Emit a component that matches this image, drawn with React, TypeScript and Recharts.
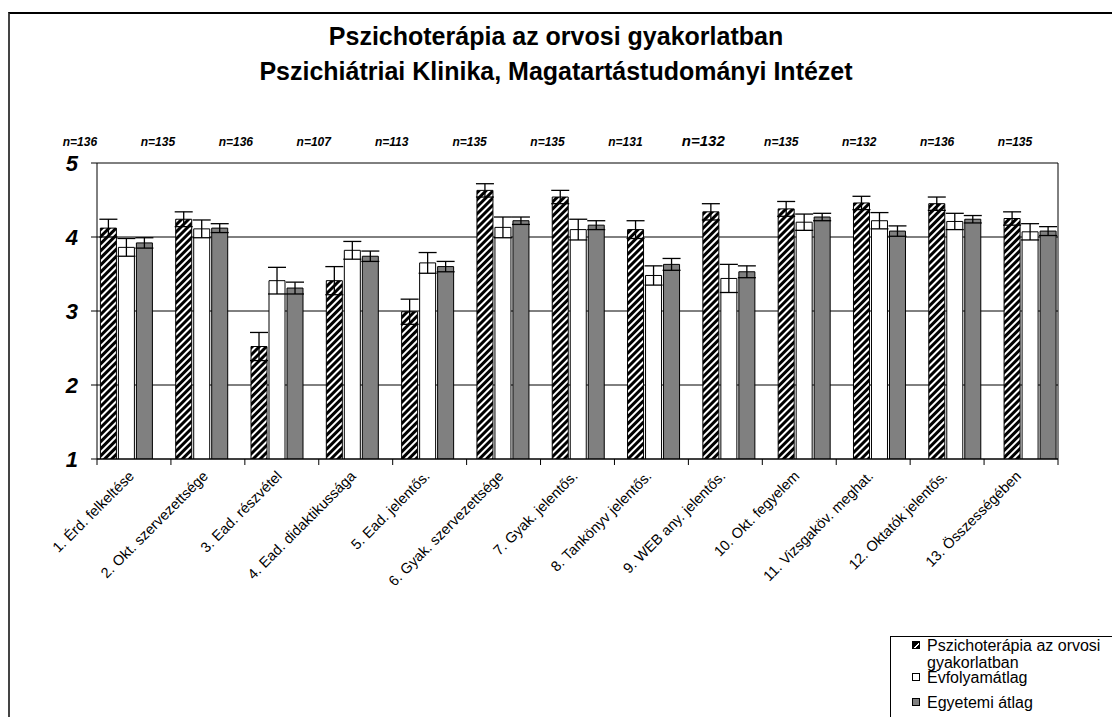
import { BarChart, Bar, XAxis, YAxis, CartesianGrid, ErrorBar } from 'recharts';

const FONT = 'Arial, "Liberation Sans", sans-serif';

const categories = [
  '1. Érd. felkeltése',
  '2. Okt. szervezettsége',
  '3. Ead. részvétel',
  '4. Ead. didaktikussága',
  '5. Ead. jelentős.',
  '6. Gyak. szervezettsége',
  '7. Gyak. jelentős.',
  '8. Tankönyv jelentős.',
  '9. WEB any. jelentős.',
  '10. Okt. fegyelem',
  '11. Vizsgaköv. meghat.',
  '12. Oktatók jelentős.',
  '13. Összességében',
];

const nLabels = [
  'n=136', 'n=135', 'n=136', 'n=107', 'n=113', 'n=135', 'n=135',
  'n=131', 'n=132', 'n=135', 'n=132', 'n=136', 'n=135',
];

const pszicho = [4.12, 4.24, 2.52, 3.41, 2.99, 4.63, 4.54, 4.1, 4.34, 4.38, 4.46, 4.45, 4.25];
const pszichoErr = [0.12, 0.1, 0.19, 0.19, 0.17, 0.09, 0.09, 0.12, 0.11, 0.1, 0.09, 0.09, 0.09];
const evfolyam = [3.86, 4.11, 3.41, 3.82, 3.65, 4.13, 4.1, 3.48, 3.44, 4.2, 4.22, 4.21, 4.07];
const evfolyamErr = [0.12, 0.12, 0.18, 0.12, 0.14, 0.14, 0.14, 0.13, 0.19, 0.11, 0.11, 0.11, 0.11];
const egyetem = [3.92, 4.12, 3.31, 3.74, 3.6, 4.22, 4.16, 3.63, 3.53, 4.27, 4.08, 4.24, 4.08];
const egyetemErr = [0.07, 0.06, 0.08, 0.07, 0.07, 0.05, 0.06, 0.08, 0.08, 0.05, 0.07, 0.05, 0.06];

const yTicks = [1, 2, 3, 4, 5];

const seriesNames = ['Pszichoterápia az orvosi gyakorlatban', 'Évfolyamátlag', 'Egyetemi átlag'];

const data = categories.map((name, i) => ({
  name,
  n: nLabels[i],
  a: pszicho[i],
  aErr: pszichoErr[i],
  b: evfolyam[i],
  bErr: evfolyamErr[i],
  c: egyetem[i],
  cErr: egyetemErr[i],
}));

const W = 1112;
const H = 717;
const MARGIN = { top: 133, right: 54, bottom: 108, left: 37 };
const Y_AXIS_W = 60;
const PLOT_W = W - MARGIN.left - Y_AXIS_W - MARGIN.right;
const BAND = PLOT_W / categories.length;

// category ticks sit between the groups, like in the old spreadsheet chart
function CategoryTick(props: any) {
  const { x, y, payload, index } = props;
  const last = index === categories.length - 1;
  const ax = x + 1;
  const ay = y + 12;
  return (
    <g>
      <line x1={x - BAND / 2} x2={x - BAND / 2} y1={y - 6} y2={y} stroke="#000" />
      {last && <line x1={x + BAND / 2} x2={x + BAND / 2} y1={y - 6} y2={y} stroke="#000" />}
      <text
        x={ax}
        y={ay}
        transform={`rotate(-45, ${ax}, ${ay})`}
        textAnchor="end"
        fontFamily={FONT}
        fontSize={14.5}
        fill="#000"
      >
        {payload.value}
      </text>
    </g>
  );
}

function NTick(props: any) {
  const { x, y, payload, index } = props;
  const big = index === 8;
  return (
    <text
      x={x}
      y={y}
      textAnchor="middle"
      fontFamily={FONT}
      fontStyle="italic"
      fontWeight="bold"
      fontSize={big ? 15 : 12}
      fill="#000"
    >
      {payload.value}
    </text>
  );
}

function Swatch({ kind }: { kind: number }) {
  const base: React.CSSProperties = {
    position: 'absolute',
    left: 0,
    top: 0,
    width: 8,
    height: 8,
    boxSizing: 'border-box',
    border: '1px solid #000',
  };
  if (kind === 0) {
    return (
      <div
        style={{
          ...base,
          background: 'linear-gradient(135deg, #000 0 55%, #fff 55% 70%, #000 70%)',
        }}
      />
    );
  }
  return <div style={{ ...base, background: kind === 1 ? '#fff' : '#808080' }} />;
}

const legendTops = [637, 669, 694];

export default function App() {
  return (
    <div
      style={{
        position: 'fixed',
        left: 0,
        top: 0,
        width: W,
        height: H,
        overflow: 'hidden',
        background: '#fff',
        fontFamily: FONT,
      }}
    >
      <div
        style={{
          position: 'absolute',
          left: 8,
          top: 12,
          width: 2000,
          height: 2000,
          borderLeft: '2px solid #444',
          borderTop: '2px solid #000',
        }}
      />
      <div
        style={{
          position: 'absolute',
          left: 0,
          top: 19,
          width: W,
          textAlign: 'center',
          fontWeight: 'bold',
          fontSize: 25,
          lineHeight: '35px',
          color: '#000',
        }}
      >
        <div>Pszichoterápia az orvosi gyakorlatban</div>
        <div>Pszichiátriai Klinika, Magatartástudományi Intézet</div>
      </div>

      <div style={{ position: 'absolute', left: 0, top: 0 }}>
        <BarChart
          width={W}
          height={H}
          data={data}
          margin={MARGIN}
          barCategoryGap={12.4}
          barGap={2}
        >
          <defs>
            <pattern
              id="hatch"
              width="5"
              height="5"
              patternUnits="userSpaceOnUse"
              patternTransform="rotate(45)"
            >
              <rect x="0" y="0" width="5" height="5" fill="#000" />
              <rect x="0" y="0" width="2" height="5" fill="#fff" />
            </pattern>
          </defs>
          <CartesianGrid
            stroke="#000"
            strokeWidth={1}
            verticalCoordinatesGenerator={({ offset }: any) => [offset.left + offset.width]}
          />
          <XAxis
            xAxisId="main"
            dataKey="name"
            height={150}
            interval={0}
            stroke="#000"
            tickLine={false}
            tickSize={6}
            tickMargin={0}
            tick={<CategoryTick />}
          />
          {/* the bars in the original drift slightly wider than the tick spacing */}
          <XAxis xAxisId="bars" dataKey="name" hide height={0} padding={{ left: -9, right: -9 }} />
          <XAxis
            xAxisId="n"
            dataKey="n"
            orientation="top"
            height={30}
            interval={0}
            axisLine={false}
            tickLine={false}
            tickSize={0}
            tickMargin={17}
            padding={{ left: -56, right: 4 }}
            tick={<NTick />}
          />
          <YAxis
            domain={[1, 5]}
            ticks={yTicks}
            width={Y_AXIS_W}
            allowDataOverflow
            stroke="#000"
            tickSize={6}
            tickMargin={13}
            tick={{ fontFamily: FONT, fontSize: 22, fontWeight: 'bold', fontStyle: 'italic', fill: '#000' }}
          />
          <Bar xAxisId="bars" dataKey="a" name={seriesNames[0]} fill="url(#hatch)" stroke="#000" strokeWidth={1} isAnimationActive={false}>
            <ErrorBar dataKey="aErr" width={9} stroke="#000" strokeWidth={1.3} direction="y" isAnimationActive={false} />
          </Bar>
          <Bar xAxisId="bars" dataKey="b" name={seriesNames[1]} fill="#fff" stroke="#000" strokeWidth={1} isAnimationActive={false}>
            <ErrorBar dataKey="bErr" width={9} stroke="#000" strokeWidth={1.3} direction="y" isAnimationActive={false} />
          </Bar>
          <Bar xAxisId="bars" dataKey="c" name={seriesNames[2]} fill="#808080" stroke="#000" strokeWidth={1} isAnimationActive={false}>
            <ErrorBar dataKey="cErr" width={9} stroke="#000" strokeWidth={1.3} direction="y" isAnimationActive={false} />
          </Bar>
        </BarChart>
      </div>

      <div
        style={{
          position: 'absolute',
          left: 890,
          top: 636,
          width: 300,
          height: 200,
          border: '1px solid #000',
          background: '#fff',
        }}
      />
      {seriesNames.map((s, i) => (
        <div
          key={s}
          style={{
            position: 'absolute',
            left: 912,
            top: legendTops[i],
            width: 196,
            fontSize: 16,
            lineHeight: '17px',
            color: '#000',
          }}
        >
          <div style={{ position: 'absolute', left: 0, top: 4, width: 8, height: 8 }}>
            <Swatch kind={i} />
          </div>
          <div style={{ marginLeft: 15 }}>{s}</div>
        </div>
      ))}
    </div>
  );
}
